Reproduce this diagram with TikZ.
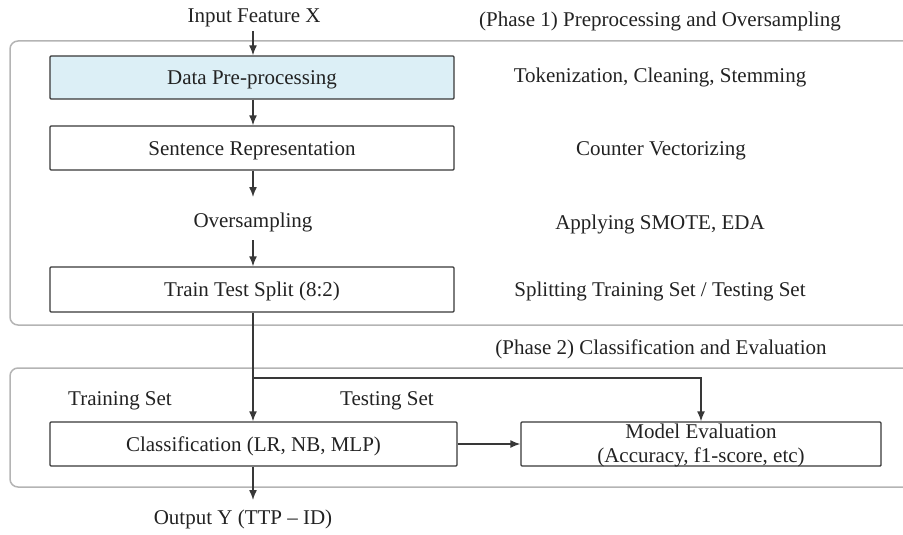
\documentclass[tikz,border=0pt]{standalone}
\usepackage{fontspec}
\setmainfont{Liberation Serif}
\usetikzlibrary{arrows.meta}
\definecolor{boxline}{HTML}{383838}
\definecolor{frameline}{HTML}{B4B4B4}
\definecolor{lightblue}{HTML}{DCEFF6}
\definecolor{txt}{HTML}{222222}
\tikzset{
  stepbox/.style={draw=boxline, line width=1.4pt, rounded corners=1pt, minimum height=44pt,
    text height=14pt, text depth=0pt, inner sep=0pt, text=txt, font=\fontsize{21}{24}\selectfont},
  lbl/.style={anchor=base, inner sep=0pt, text=txt, font=\fontsize{21}{24}\selectfont},
  phase/.style={draw=frameline, line width=1.5pt, rounded corners=8pt},
  arr/.style={draw=boxline, line width=1.4pt, -{Latex[length=10pt,width=8pt]}},
  ln/.style={draw=boxline, line width=1.4pt}
}
\begin{document}
\begin{tikzpicture}[x=1pt,y=-1pt]
\useasboundingbox (0,0) rectangle (903,535);
\begin{scope}
\clip (0,0) rectangle (903,535);
\draw[phase] (10,41) rectangle (940,325);
\draw[phase] (10,368) rectangle (940,487);
\end{scope}

% free texts
\node[lbl] (inp) at (254,23) {Input Feature X};
\node[lbl] (ph1) at (660,27) {(Phase 1) Preprocessing and Oversampling};
\node[lbl] (tok) at (660,83) {Tokenization, Cleaning, Stemming};
\node[lbl] (cv) at (661,155) {Counter Vectorizing};
\node[lbl] (over) at (253,227) {Oversampling};
\node[lbl] (smote) at (660,229) {Applying SMOTE, EDA};
\node[lbl] (splt) at (660,296) {Splitting Training Set / Testing Set};
\node[lbl] (ph2) at (661,354) {(Phase 2) Classification and Evaluation};
\node[lbl] (trs) at (120,405) {Training Set};
\node[lbl] (tes) at (387,405) {Testing Set};
\node[lbl] (out) at (243,524) {Output Y (TTP -- ID)};

% boxes
\node[stepbox, fill=lightblue, minimum width=404pt, minimum height=43pt] (dp) at (252,77.5) {Data Pre-processing};
\node[stepbox, minimum width=404pt] (sr) at (252,148) {Sentence Representation};
\node[stepbox, minimum width=404pt, minimum height=45pt] (tts) at (252,289.5) {Train Test Split (8:2)};
\node[stepbox, minimum width=407pt] (cls) at (253.5,444) {Classification (LR, NB, MLP)};
\node[stepbox, minimum width=360pt] (me) at (701,444) {};
\node[lbl, align=center] (metxt) at (701,462) {Model Evaluation\\(Accuracy, f1-score, etc)};

% connectors
\coordinate (inpb) at (253,31);
\coordinate (overt) at (253,240);
\coordinate (split) at (253,378);
\draw[arr] (inpb) -- (dp.north -| inpb);
\draw[arr] (dp.south -| inpb) -- (sr.north -| inpb);
\draw[arr] (sr.south -| inpb) -- (253,197);
\draw[arr] (overt) -- (tts.north -| overt);
\draw[arr] (tts.south -| overt) -- (cls.north -| overt);
\draw[arr] (split) -| (me.north);
\draw[arr] (cls.east) -- (me.west);
\draw[arr] (cls.south -| overt) -- (253,500);
\end{tikzpicture}
\end{document}
